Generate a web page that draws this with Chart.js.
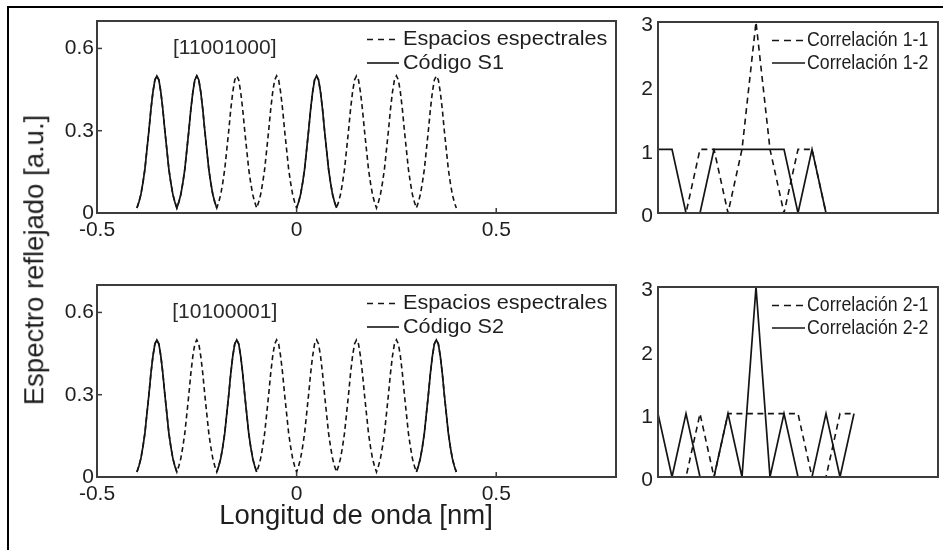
<!DOCTYPE html>
<html><head><meta charset="utf-8">
<script src="https://cdn.jsdelivr.net/npm/chart.js@4.4.1/dist/chart.umd.min.js"></script>
<style>
html,body{margin:0;padding:0;background:#fff;width:943px;height:550px;overflow:hidden;}
#frame{position:absolute;left:7px;top:6px;width:960px;height:560px;border-top:2px solid #000;border-left:2px solid #000;}
canvas{position:absolute;}
.ttl{position:absolute;font-family:"Liberation Sans",Arial,sans-serif;color:#1e1e1e;font-size:27.5px;line-height:1;white-space:nowrap;}
</style></head><body>
<div id="frame"></div>
<canvas id="c1" width="640" height="262" style="left:0;top:0"></canvas>
<canvas id="c2" width="343" height="262" style="left:600px;top:0"></canvas>
<canvas id="c3" width="640" height="262" style="left:0;top:264px"></canvas>
<canvas id="c4" width="343" height="262" style="left:600px;top:264px"></canvas>
<div class="ttl" id="ytitle" style="left:33.5px;top:260px;transform:translate(-50%,-50%) rotate(-90deg);">Espectro reflejado [a.u.]</div>
<div class="ttl" id="xtitle" style="left:356px;top:501px;transform:translateX(-50%);">Longitud de onda [nm]</div>
<script>
// ---------- data ----------
const specXTicks = [-0.5, 0, 0.5];
const specYTicks = [0, 0.3, 0.6];
const peakCenters = [-0.35, -0.25, -0.15, -0.05, 0.05, 0.15, 0.25, 0.35];
const profileOffsets = [-0.05,-0.045,-0.04,-0.035,-0.03,-0.025,-0.02,-0.015,-0.01,-0.005,0,0.005,0.01,0.015,0.02,0.025,0.03,0.035,0.04,0.045,0.05];
const profileValues  = [0.018,0.04,0.068,0.11,0.16,0.23,0.30,0.377,0.44,0.485,0.5,0.485,0.44,0.377,0.30,0.23,0.16,0.11,0.068,0.04,0.018];
const codeS1 = [1,1,0,0,1,0,0,0];
const codeS2 = [1,0,1,0,0,0,0,1];
const codeS1Label = '[11001000]';
const codeS2Label = '[10100001]';
const lags = [-7,-6,-5,-4,-3,-2,-1,0,1,2,3,4,5,6,7];
const corr11 = [0,0,0,1,1,0,1,3,1,0,1,1,0,0,0];
const corr12 = [1,1,0,0,1,1,1,1,1,1,0,1,0,0,0];
const corr21 = [0,0,0,1,0,1,1,1,1,1,1,0,0,1,1];
const corr22 = [1,0,1,0,0,1,0,3,0,1,0,0,1,0,1];
const corrYTicks = [0, 1, 2, 3];

// ---------- helpers ----------
const INK = '#141414';
const BOX = '#3c3c3c';
const FONT = "'Liberation Sans', Arial, sans-serif";
Chart.defaults.font.family = FONT;
Chart.defaults.color = '#1e1e1e';

function peaksSeries(mask){
  const pts = [];
  let prevOn = false;
  peakCenters.forEach((c, i) => {
    if (!mask[i]) { if (prevOn) pts.push({x: c - 0.05 + 0.001, y: null}); prevOn = false; return; }
    profileOffsets.forEach((o, k) => {
      if (k === 0 && prevOn) return;
      pts.push({x: +(c + o).toFixed(4), y: profileValues[k]});
    });
    prevOn = true;
  });
  return pts;
}
function corrSeries(vals){ return lags.map((l, i) => ({x: l, y: vals[i]})); }

const boxPlugin = {
  id: 'boxPlugin',
  afterDatasetsDraw(chart, args, opts){
    const {ctx, chartArea: a} = chart;
    ctx.save();
    ctx.setLineDash([]);
    ctx.strokeStyle = BOX; ctx.lineWidth = 2;
    ctx.strokeRect(a.left, a.top, a.right - a.left, a.bottom - a.top);
    if (opts.ticks) {
      ctx.lineWidth = 1.5;
      const L = 5;
      const xs = chart.scales.x, ys = chart.scales.y;
      xs.ticks.forEach(t => { const p = xs.getPixelForValue(t.value);
        if (p > a.left + 2 && p < a.right - 2) { ctx.beginPath(); ctx.moveTo(p, a.bottom); ctx.lineTo(p, a.bottom - L); ctx.stroke(); } });
      ys.ticks.forEach(t => { const p = ys.getPixelForValue(t.value);
        if (p > a.top + 2 && p < a.bottom - 2) { ctx.beginPath(); ctx.moveTo(a.left, p); ctx.lineTo(a.left + L, p); ctx.stroke(); } });
    }
    ctx.restore();
  }
};

const legendPlugin = {
  id: 'legendPlugin',
  afterDatasetsDraw(chart, args, opts){
    const {ctx, chartArea: a} = chart;
    ctx.save();
    ctx.font = opts.font;
    ctx.fillStyle = '#1e1e1e';
    ctx.textBaseline = 'middle';
    ctx.textAlign = 'left';
    opts.items.forEach((it, i) => {
      const y = a.top + opts.rows[i];
      ctx.strokeStyle = INK; ctx.lineWidth = 1.6;
      ctx.setLineDash(it.dash);
      ctx.beginPath(); ctx.moveTo(opts.x0, y); ctx.lineTo(opts.x1, y); ctx.stroke();
      ctx.setLineDash([]);
      ctx.save();
      ctx.translate(opts.tx, y);
      ctx.scale(opts.sx, 1);
      ctx.fillText(it.label, 0, 0);
      ctx.restore();
    });
    if (opts.note) {
      ctx.font = opts.noteFont;
      ctx.textAlign = 'center';
      ctx.fillStyle = '#2a2a2a';
      ctx.fillText(opts.note.text, chart.scales.x.getPixelForValue(opts.note.x), chart.scales.y.getPixelForValue(opts.note.y));
    }
    ctx.restore();
  }
};

function spectrumChart(id, mask, codeName, note){
  return new Chart(document.getElementById(id), {
    type: 'line',
    data: { datasets: [
      { label: codeName, data: peaksSeries(mask), borderColor: INK, borderWidth: 1.7, pointRadius: 0, spanGaps: false, tension: 0 },
      { label: 'Espacios espectrales', data: peaksSeries(peakCenters.map(() => 1)), borderColor: INK, borderWidth: 1.6, borderDash: [5, 3.5], pointRadius: 0, tension: 0 }
    ]},
    options: {
      responsive: false, animation: false, events: [],
      layout: { padding: { left: 0, top: 21, right: 24, bottom: 0 } },
      scales: {
        x: { type: 'linear', min: -0.5, max: 0.8,
             afterBuildTicks: s => { s.ticks = specXTicks.map(v => ({value: v})); },
             afterFit: s => { s.height = 49; },
             grid: { display: false, drawTicks: false }, border: { display: false },
             ticks: { padding: 5, font: { size: 21 }, callback: v => String(v) } },
        y: { type: 'linear', min: 0, max: 0.7,
             afterBuildTicks: s => { s.ticks = specYTicks.map(v => ({value: v})); },
             afterFit: s => { s.width = 97; },
             grid: { display: false, drawTicks: false }, border: { display: false },
             ticks: { padding: 3, font: { size: 21 }, callback: v => String(v) } }
      },
      plugins: {
        legend: { display: false }, tooltip: { enabled: false },
        boxPlugin: { ticks: true },
        legendPlugin: { font: '21px ' + FONT, x0: 367, x1: 399, tx: 403, sx: 1.03, rows: [18.5, 42],
          items: [ { label: 'Espacios espectrales', dash: [6, 5] }, { label: codeName, dash: [] } ],
          noteFont: '21px ' + FONT, note: note }
      }
    },
    plugins: [boxPlugin, legendPlugin]
  });
}

function corrChart(id, dashedVals, solidVals, dashedName, solidName, padTop){
  return new Chart(document.getElementById(id), {
    type: 'line',
    data: { datasets: [
      { label: solidName, data: corrSeries(solidVals), borderColor: INK, borderWidth: 1.7, pointRadius: 0, tension: 0 },
      { label: dashedName, data: corrSeries(dashedVals), borderColor: INK, borderWidth: 1.6, borderDash: [6, 4.5], pointRadius: 0, tension: 0 }
    ]},
    options: {
      responsive: false, animation: false, events: [],
      layout: { padding: { left: 0, top: padTop, right: 5, bottom: 0 } },
      scales: {
        x: { type: 'linear', min: -7, max: 13,
             afterFit: s => { s.height = 49; },
             grid: { display: false, drawTicks: false }, border: { display: false },
             ticks: { display: false } },
        y: { type: 'linear', min: 0, max: 3,
             afterBuildTicks: s => { s.ticks = corrYTicks.map(v => ({value: v})); },
             afterFit: s => { s.width = 58; },
             grid: { display: false, drawTicks: false }, border: { display: false },
             ticks: { padding: 5, labelOffset: 3.5, font: { size: 21 } } }
      },
      plugins: {
        legend: { display: false }, tooltip: { enabled: false },
        boxPlugin: { ticks: false },
        legendPlugin: { font: '21px ' + FONT, x0: 172, x1: 205, tx: 207, sx: 0.845, rows: [18.5, 41],
          items: [ { label: dashedName, dash: [7, 5] }, { label: solidName, dash: [] } ] }
      }
    },
    plugins: [boxPlugin, legendPlugin]
  });
}

spectrumChart('c1', codeS1, 'Código S1', { text: codeS1Label, x: -0.18, y: 0.6 });
corrChart('c2', corr11, corr12, 'Correlación 1-1', 'Correlación 1-2', 22);
spectrumChart('c3', codeS2, 'Código S2', { text: codeS2Label, x: -0.18, y: 0.6 });
corrChart('c4', corr21, corr22, 'Correlación 2-1', 'Correlación 2-2', 23);
</script>
</body></html>
